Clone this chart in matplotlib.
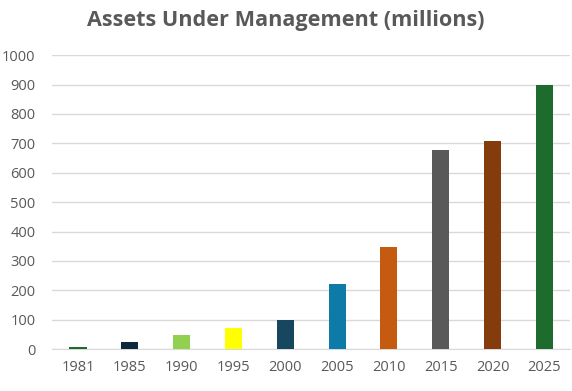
import matplotlib.pyplot as plt

# data
years = ['1981', '1985', '1990', '1995', '2000', '2005', '2010', '2015', '2020', '2025']
assets = [7, 24, 49, 72, 100, 221, 348, 678, 708, 900]
colors = ['#1e6b2e', '#0d2a3d', '#92d050', '#ffff00', '#17475e',
          '#0e7aa8', '#c55a11', '#595959', '#843c0c', '#1e6b2e']
yticks = list(range(0, 1001, 100))

plt.rcParams['font.family'] = ['Open Sans', 'DejaVu Sans']

fig = plt.figure(figsize=(5.72, 3.91), dpi=100)
ax = fig.add_axes([0.091, 0.107, 0.906, 0.752])

x = range(len(years))
ax.bar(x, assets, width=0.33, color=colors, zorder=3)

ax.set_xlim(-0.5, len(years) - 0.5)
ax.set_ylim(0, 1000)
ax.set_yticks(yticks)
ax.set_xticks(list(x))
ax.set_xticklabels(years)
ax.grid(axis='y', color='#d9d9d9', linewidth=1, zorder=0)

for s in ['top', 'right', 'left']:
    ax.spines[s].set_visible(False)
ax.spines['bottom'].set_color('#d9d9d9')
ax.tick_params(axis='both', length=0, colors='#595959', labelsize=10.5)
ax.tick_params(axis='x', pad=8)
ax.tick_params(axis='y', pad=12)

fig.text(0.5, 0.948, 'Assets Under Management (millions)', ha='center', va='center',
         fontsize=15.6, fontweight='bold', color='#595959')

fig.savefig('out.png', dpi=100)
